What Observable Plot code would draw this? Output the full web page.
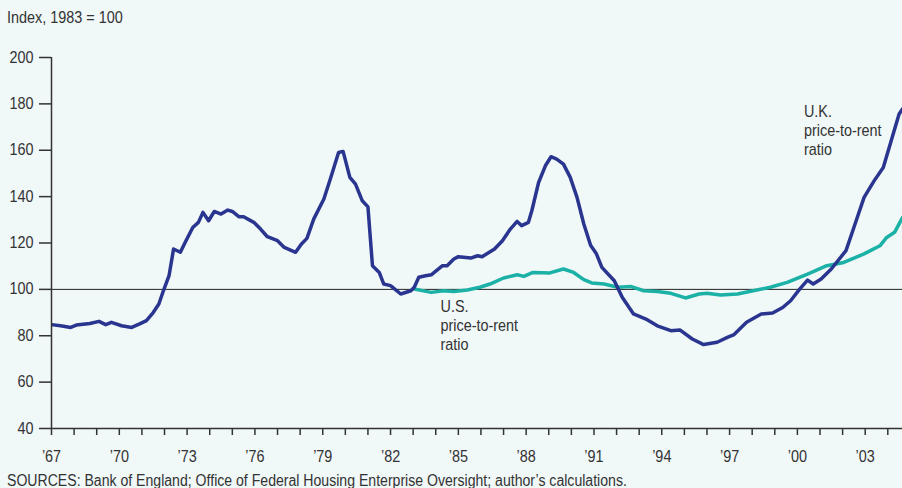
<!DOCTYPE html>
<html>
<head>
<meta charset="utf-8">
<script src="https://cdn.jsdelivr.net/npm/d3@7"></script>
<script src="https://cdn.jsdelivr.net/npm/@observablehq/plot@0.6"></script>
<style>
  html, body { margin: 0; padding: 0; background: #f0f8f8; }
  body { width: 902px; height: 488px; overflow: hidden; font-family: "Liberation Sans", Arial, sans-serif; color: #333; }
  #title { height: 20px; padding: 10px 0 0 7px; font-size: 16px; line-height: 16px; }
  #chart svg { display: block; }
  #source { margin-top: 5px; padding-left: 7px; font-size: 16px; line-height: 16px; white-space: nowrap; }
  .cond { display: inline-block; transform: scaleX(0.9); transform-origin: left center; }
  #source .cond { transform: scaleX(0.88); }
</style>
</head>
<body>
<div id="title"><span class="cond">Index, 1983 = 100</span></div>
<div id="chart"></div>
<div id="source"><span class="cond">SOURCES: Bank of England; Office of Federal Housing Enterprise Oversight; author’s calculations.</span></div>
<script>
const ukYears = [1967.0,1967.4,1967.85,1968.1,1968.7,1969.1,1969.4,1969.65,1970.1,1970.55,1970.9,1971.2,1971.5,1971.75,1971.95,1972.2,1972.4,1972.7,1972.95,1973.25,1973.5,1973.7,1973.95,1974.2,1974.5,1974.8,1975.0,1975.3,1975.5,1975.95,1976.25,1976.55,1977.0,1977.3,1977.8,1978.05,1978.3,1978.6,1979.05,1979.35,1979.7,1979.9,1980.2,1980.45,1980.75,1981.0,1981.2,1981.5,1981.7,1982.0,1982.45,1982.9,1983.05,1983.25,1983.55,1983.8,1984.3,1984.5,1984.8,1985.0,1985.55,1985.85,1986.05,1986.6,1986.95,1987.3,1987.6,1987.8,1988.1,1988.25,1988.55,1988.85,1989.1,1989.35,1989.65,1989.95,1990.25,1990.55,1990.85,1991.1,1991.35,1991.9,1992.25,1992.75,1993.3,1993.8,1994.4,1994.8,1995.35,1995.85,1996.45,1996.9,1997.2,1997.75,1998.4,1998.9,1999.35,1999.7,2000.1,2000.45,2000.7,2001.05,2001.5,2002.15,2002.6,2002.95,2003.4,2003.8,2004.15,2004.5,2004.65];
const ukValues = [84.8,84.3,83.6,84.6,85.3,86.2,84.8,85.8,84.3,83.6,85.1,86.5,90,93.7,99.4,105.9,117.4,116,121,126.7,128.9,133.2,129.6,133.6,132.5,134.2,133.6,131.3,131.3,128.9,126,122.7,121,118.1,116,119.5,122,130.3,139,148,159,159.5,148.3,145.4,138.2,135.6,110.2,107.3,102.3,101.6,98,99.4,100.9,105.2,105.9,106.3,110.2,110.2,113.1,114.1,113.5,114.5,114.1,117.4,121,126,129.3,127.5,128.9,133.9,146.1,153.3,157.2,156.2,154,148.3,139.7,128.2,119,115.5,109.5,103.7,96.6,89.4,87.2,84.3,82.2,82.5,78.6,76.2,77.2,79.3,80.5,85.8,89.4,89.8,92.2,95.1,100.1,104,102.3,104.5,108.8,116.7,129.6,139.7,146.9,152.6,164.1,175.6,177.8];
const usYears = [1983.05,1983.8,1984.35,1984.8,1985.4,1985.95,1986.4,1987.0,1987.6,1987.9,1988.3,1989.05,1989.65,1990.1,1990.55,1990.9,1991.45,1992.05,1992.65,1993.2,1993.8,1994.4,1995.05,1995.65,1996.0,1996.6,1997.35,1998.2,1998.8,1999.55,2000.45,2001.3,2002.05,2002.95,2003.65,2003.95,2004.3,2004.65];
const usValues = [100.2,98.7,99.4,99.1,99.7,100.9,102.3,104.9,106.3,105.6,107.3,107.1,108.8,107.3,104.2,102.8,102.3,100.9,101.2,99.4,99.1,98.3,96.3,98,98.3,97.6,98,99.7,100.9,103,106.6,110.2,111.6,115.3,118.8,122.4,124.6,131];
const yTicks = [40,60,80,100,120,140,160,180,200];
const xTickYears = d3.range(1967, 2005);
const labels = [
  {x: 1984.21, y: 95.9, text: "U.S.\nprice-to-rent\nratio"},
  {x: 2000.29, y: 180.2, text: "U.K.\nprice-to-rent\nratio"}
];

const uk = ukYears.map((x, i) => ({x, y: ukValues[i]}));
const us = usYears.map((x, i) => ({x, y: usValues[i]}));

const chart = Plot.plot({
  width: 902,
  height: 438,
  marginLeft: 51,
  marginRight: 0,
  marginTop: 27,
  marginBottom: 40,
  style: {fontFamily: '"Liberation Sans", Arial, sans-serif', fontSize: "16px", background: "transparent", color: "#333"},
  x: {domain: [1967, 2004.65]},
  y: {domain: [40, 200]},
  marks: [
    Plot.axisY({ticks: yTicks, tickSize: 12, tickPadding: 6, label: null, stroke: "#333", strokeWidth: 1.5}),
    Plot.axisX({ticks: xTickYears, tickSize: 7, tickPadding: 15, label: null, stroke: "#333", strokeWidth: 1.5,
      tickFormat: d => ((d - 1967) % 3 === 0 ? "\u2019" + String(d).slice(2) : "")}),
    Plot.ruleY([100], {stroke: "#222", strokeWidth: 1}),
    Plot.line(us, {x: "x", y: "y", stroke: "#1bb1a6", strokeWidth: 3.5, clip: true}),
    Plot.line(uk, {x: "x", y: "y", stroke: "#29358f", strokeWidth: 3.5, clip: true}),
    Plot.ruleX([1967], {y1: 40, y2: 200, stroke: "#333", strokeWidth: 1.5}),
    Plot.ruleY([40], {stroke: "#333", strokeWidth: 1.5}),
    Plot.text(labels, {x: "x", y: "y", text: "text", textAnchor: "start", lineAnchor: "top", lineHeight: 1.19, fill: "#333", fontSize: 16})
  ]
});
document.getElementById("chart").appendChild(chart);
// condense SVG text horizontally around its anchor point
chart.querySelectorAll("text").forEach(el => {
  const t = el.getAttribute("transform") || "";
  el.setAttribute("transform", (t + " scale(0.9,1)").trim());
});
</script>
</body>
</html>
